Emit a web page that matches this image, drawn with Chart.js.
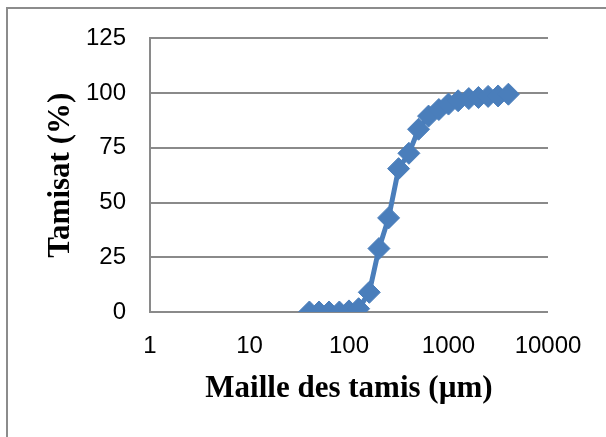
<!DOCTYPE html>
<html>
<head>
<meta charset="utf-8">
<script src="https://cdn.jsdelivr.net/npm/chart.js@4/dist/chart.umd.min.js"></script>
<style>
  html, body { margin: 0; padding: 0; background: #fff; }
  #wrap { position: relative; width: 606px; height: 437px; overflow: hidden; }
  #frame { position: absolute; left: 6px; top: 7px; width: 620px; height: 450px;
           border-left: 2px solid #8c8c8c; border-top: 2px solid #8c8c8c; }
  canvas { position: absolute; left: 0; top: 0; }
</style>
</head>
<body>
<div id="wrap">
  <div id="frame"></div>
  <canvas id="chart" width="606" height="437"></canvas>
</div>
<script>
// sieve openings (µm) and passing percentage
const maille = [40, 50, 63, 80, 100, 125, 160, 200, 250, 315, 400, 500, 630, 800, 1000, 1250, 1600, 2000, 2500, 3150, 4000];
const tamisat = [0, 0, 0, 0, 0.5, 1.5, 9, 29, 43, 65.5, 72.5, 83.5, 89.5, 92.5, 95, 96.5, 97.5, 98, 98.5, 98.7, 99.5];
const xTickValues = [1, 10, 100, 1000, 10000];
const yTickValues = [0, 25, 50, 75, 100, 125];

const blue = '#4a7ebb';
const gridGray = '#8a8a8a';

let points = maille.map((m, i) => ({ x: m, y: tamisat[i] }));

new Chart(document.getElementById('chart'), {
    type: 'line',
    data: {
        datasets: [{
            data: points,
            borderColor: blue,
            backgroundColor: blue,
            borderWidth: 5,
            pointStyle: 'rectRot',
            pointRadius: 11,
            pointBorderWidth: 1,
            pointBorderColor: blue,
            pointBackgroundColor: blue,
            tension: 0
        }]
    },
    options: {
        responsive: false,
        animation: false,
        layout: { padding: { left: 0, right: 58, top: 37, bottom: 0 } },
        plugins: {
            legend: { display: false },
            tooltip: { enabled: false }
        },
        scales: {
            x: {
                type: 'logarithmic',
                min: 1,
                max: 10000,
                afterBuildTicks: (scale) => {
                    scale.ticks = xTickValues.map(v => ({ value: v }));
                },
                afterFit: (scale) => { scale.height = 125; },
                grid: { display: false, drawTicks: false },
                border: { display: false },
                ticks: {
                    autoSkip: false,
                    maxRotation: 0,
                    padding: 20,
                    color: '#000',
                    font: { family: 'Liberation Sans', size: 24 },
                    callback: (v) => String(v)
                },
                title: {
                    display: true,
                    text: 'Maille des tamis (µm)',
                    color: '#000',
                    padding: { top: 29, bottom: 29 },
                    font: { family: 'Liberation Serif', size: 31, weight: 'bold' }
                }
            },
            y: {
                min: 0,
                max: 125,
                afterBuildTicks: (scale) => {
                    scale.ticks = yTickValues.map(v => ({ value: v }));
                },
                afterFit: (scale) => { scale.width = 150; },
                grid: { color: gridGray, lineWidth: 2, drawTicks: false },
                border: { display: true, color: gridGray, width: 2 },
                ticks: {
                    padding: 24,
                    color: '#000',
                    font: { family: 'Liberation Sans', size: 24 }
                },
                title: {
                    display: true,
                    text: 'Tamisat (%)',
                    color: '#000',
                    padding: { top: 42, bottom: 42 },
                    font: { family: 'Liberation Serif', size: 31, weight: 'bold' }
                }
            }
        }
    }
});
</script>
</body>
</html>
